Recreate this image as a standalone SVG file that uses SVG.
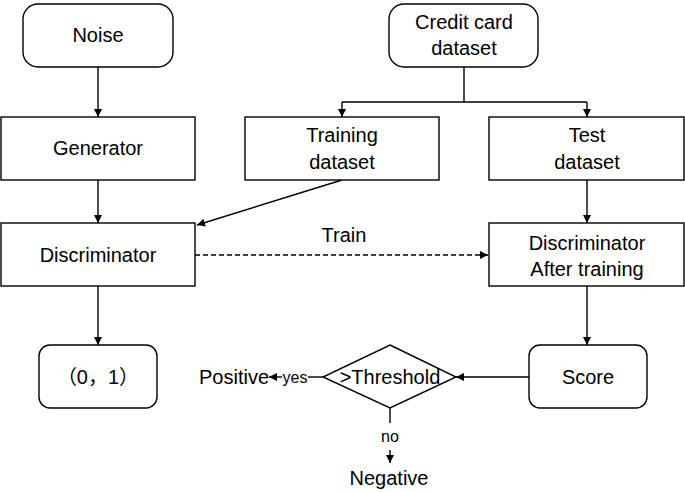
<svg xmlns="http://www.w3.org/2000/svg" width="685" height="492" viewBox="0 0 685 492">
<style>
.box{fill:#fff;stroke:#000;stroke-width:1.4}
.t{font-family:"Liberation Sans","Noto Sans CJK SC",sans-serif;font-size:20px;fill:#000;text-anchor:middle}
.s{font-family:"Liberation Sans",sans-serif;font-size:16px;fill:#000;text-anchor:middle}
.ln{fill:none;stroke:#000;stroke-width:1.4}
</style>
<defs>
<marker id="ah" viewBox="0 0 10 10" refX="10" refY="5" markerWidth="8" markerHeight="8" markerUnits="userSpaceOnUse" orient="auto">
<path d="M0,0 L10,5 L0,10 z" fill="#000"/>
</marker>
</defs>
<rect width="685" height="492" fill="#fff"/>
<g id="connectors">
<line class="ln" x1="98" y1="67" x2="98" y2="117" marker-end="url(#ah)"/>
<line class="ln" x1="98" y1="180" x2="98" y2="223" marker-end="url(#ah)"/>
<line class="ln" x1="98" y1="286" x2="98" y2="345" marker-end="url(#ah)"/>
<polyline class="ln" points="464,67 464,102"/>
<polyline class="ln" points="342,102 587,102"/>
<line class="ln" x1="342" y1="102" x2="342" y2="117" marker-end="url(#ah)"/>
<line class="ln" x1="587" y1="102" x2="587" y2="117" marker-end="url(#ah)"/>
<line class="ln" x1="342" y1="180" x2="197" y2="225" marker-end="url(#ah)"/>
<line class="ln" x1="587" y1="180" x2="587" y2="223" marker-end="url(#ah)"/>
<line class="ln" x1="587" y1="286" x2="587" y2="345" marker-end="url(#ah)"/>
<line class="ln" x1="195" y1="255" x2="488" y2="255" stroke-dasharray="5,3" marker-end="url(#ah)"/>
<line class="ln" x1="529" y1="377" x2="456" y2="377" marker-end="url(#ah)"/>
<line class="ln" x1="323" y1="377" x2="308" y2="377"/>
<line class="ln" x1="282" y1="377" x2="269" y2="377" marker-end="url(#ah)"/>
<line class="ln" x1="390" y1="408" x2="390" y2="423"/>
<line class="ln" x1="390" y1="450" x2="390" y2="463" marker-end="url(#ah)"/>
<text class="t" x="344" y="242">Train</text>
<text class="s" x="295" y="383">yes</text>
<text class="s" x="390" y="442">no</text>
</g>
<g id="noise"><rect class="box" x="23" y="4" width="150" height="63" rx="15"/><text class="t" x="98" y="42">Noise</text></g>
<g id="credit"><rect class="box" x="389" y="4" width="149" height="63" rx="15"/><text class="t" x="464" y="29">Credit card</text><text class="t" x="464" y="55">dataset</text></g>
<g id="generator"><rect class="box" x="1" y="117" width="194" height="63"/><text class="t" x="98" y="155">Generator</text></g>
<g id="training"><rect class="box" x="245" y="117" width="194" height="63"/><text class="t" x="342" y="142">Training</text><text class="t" x="342" y="169">dataset</text></g>
<g id="test"><rect class="box" x="489" y="117" width="195" height="63"/><text class="t" x="587" y="142">Test</text><text class="t" x="587" y="169">dataset</text></g>
<g id="discriminator"><rect class="box" x="1" y="223" width="194" height="63"/><text class="t" x="98" y="262">Discriminator</text></g>
<g id="disc-after"><rect class="box" x="489" y="223" width="195" height="63"/><text class="t" x="587" y="250">Discriminator</text><text class="t" x="587" y="276">After training</text></g>
<g id="output"><rect class="box" x="39" y="345" width="118" height="63" rx="11"/><text class="t" x="98" y="384">（0，1）</text></g>
<g id="score"><rect class="box" x="529" y="345" width="118" height="63" rx="11"/><text class="t" x="588" y="384">Score</text></g>
<g id="threshold"><polygon class="box" points="390,345 456,377 390,408 323,377"/><text class="t" x="390" y="384">&gt;Threshold</text></g>
<g id="positive"><text class="t" x="234" y="384">Positive</text></g>
<g id="negative"><text class="t" x="389" y="485">Negative</text></g>
</svg>
